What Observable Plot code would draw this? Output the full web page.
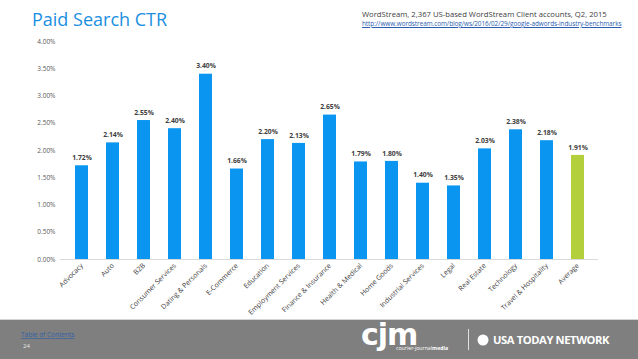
<!DOCTYPE html>
<html><head><meta charset="utf-8">
<script src="https://cdn.jsdelivr.net/npm/d3@7"></script>
<script src="https://cdn.jsdelivr.net/npm/@observablehq/plot@0.6"></script>
<style>
html,body{margin:0;padding:0;background:#fff;width:638px;height:359px;overflow:hidden;font-family:"Open Sans",sans-serif;}
#wrap{position:relative;width:638px;height:359px;}
#chart{position:absolute;left:0;top:0;}
.t{position:absolute;white-space:nowrap;line-height:1;}
#title{left:32px;top:10px;font-size:18px;color:#1a8fe0;}
#src1{left:362px;top:11px;font-size:7.7px;color:#404040;}
#src2{left:362px;top:21px;font-size:6.4px;color:#2a5db0;text-decoration:underline;letter-spacing:-0.05px;}
#footer{position:absolute;left:0;top:299px;width:638px;height:60px;}
</style></head>
<body><div id="wrap">
<div id="chart"></div>
<div class="t" id="title">Paid Search CTR</div>
<div class="t" id="src1">WordStream, 2,367 US-based WordStream Client accounts, Q2, 2015</div>
<div class="t" id="src2">http://www.wordstream.com/blog/ws/2016/02/29/google-adwords-industry-benchmarks</div>
<svg id="footer" width="638" height="60" viewBox="0 -20 638 60">
  <rect x="0" y="0" width="638" height="1" fill="#d4d4d4"/>
  <rect x="0" y="1" width="638" height="39" fill="#7f7f7f"/>
  <text x="21" y="18" font-family="Open Sans" font-size="6.5" fill="#2f5fa8" text-decoration="underline">Table of Contents</text>
  <text x="23" y="29" font-family="Open Sans" font-size="6" fill="#e6e6e6">24</text>
  <text x="361" y="26" font-family="DejaVu Sans" font-weight="bold" font-size="30" fill="#fff" letter-spacing="-1">cjm<tspan x="396" y="31" font-family="Open Sans" font-weight="normal" font-size="5.2" letter-spacing="0">courier-journal</tspan><tspan font-family="Open Sans" font-weight="bold" font-size="5.2" letter-spacing="0">media</tspan></text>
  <rect x="468" y="10" width="1" height="21" fill="#e0e0e0"/>
  <circle cx="483" cy="21" r="5.5" fill="#fff"/>
  <text x="493" y="25" font-family="Open Sans" font-weight="bold" font-size="11.2" fill="#fff" letter-spacing="-0.4">USA TODAY NETWORK</text>
</svg>
</div>
<script>
const categories = ["Advocacy","Auto","B2B","Consumer Services","Dating & Personals","E-Commerce","Education","Employment Services","Finance & Insurance","Health & Medical","Home Goods","Industrial Services","Legal","Real Estate","Technology","Travel & Hospitality","Average"];
const ctr = [0.0172,0.0214,0.0255,0.0240,0.0340,0.0166,0.0220,0.0213,0.0265,0.0179,0.0180,0.0140,0.0135,0.0203,0.0238,0.0218,0.0191];
const yTicks = [0,0.005,0.01,0.015,0.02,0.025,0.03,0.035,0.04];
const data = categories.map((c,i)=>({category:c, value:ctr[i], avg:c==="Average"}));
const fmt = d3.format(".2%");
const chart = Plot.plot({
  width:638, height:320,
  marginLeft:60, marginRight:40, marginTop:41, marginBottom:61,
  style:{fontFamily:"Open Sans, sans-serif", background:"transparent"},
  x:{domain:categories, range:[50,609], padding:0.58, label:null},
  y:{domain:[0,0.04], label:null},
  color:{domain:[false,true], range:["#0a96f0","#b4cf3c"]},
  marks:[
    Plot.barY(data,{x:"category", y:"value", fill:"avg"}),
    Plot.ruleY([0],{stroke:"#d9d9d9"}),
    Plot.text(data,{x:"category", y:"value", text:d=>fmt(d.value), dy:-8, fontSize:6.8, fontWeight:"bold", fill:"#404040"}),
    Plot.axisX({tickRotate:-45, tickSize:0, tickPadding:5, fontSize:7, fill:"#404040", label:null}),
    Plot.axisY({ticks:yTicks, tickFormat:d=>fmt(d), tickSize:0, tickPadding:5, fontSize:6.5, fill:"#595959", label:null})
  ]
});
document.getElementById("chart").appendChild(chart);
</script>
</body></html>
